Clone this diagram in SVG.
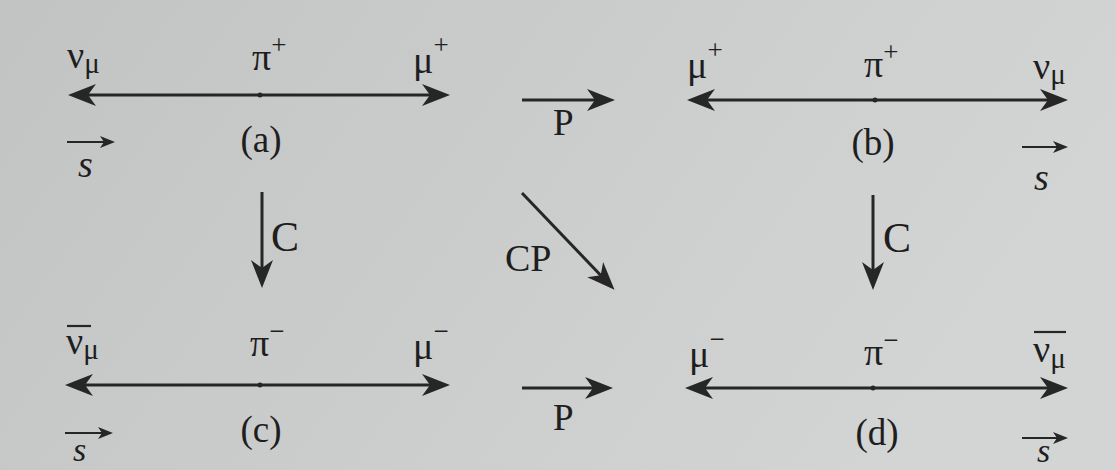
<svg xmlns="http://www.w3.org/2000/svg" width="1116" height="470" viewBox="0 0 1116 470">
<style>
.t{font-family:"Liberation Serif","DejaVu Serif",serif;fill:#1e1e1e}
.g{font-size:38px}
.sub{font-size:29px}
.sup{font-size:27px}
.lab{font-size:37px}
.cp{font-size:38px}
.pp{font-size:37px}
.op{font-size:42px}
.s{font-size:38px;font-style:italic}
.s2{font-size:34px;font-style:italic}
.ax{stroke:#262626;stroke-width:3;fill:none}
.sm{stroke:#262626;stroke-width:2.2;fill:none}
.bar{stroke:#262626;stroke-width:2.2}
</style>
<defs>
<linearGradient id="bg" x1="0" y1="0" x2="1" y2="0.3">
<stop offset="0" stop-color="#c2c3c3"/>
<stop offset="1" stop-color="#d3d4d4"/>
</linearGradient>
<marker id="big" markerUnits="userSpaceOnUse" viewBox="-30 -12 30 24" refX="-8" refY="0" markerWidth="30" markerHeight="24" orient="auto-start-reverse">
<path d="M0,0 L-28,-11 L-20,0 L-28,11 Z" fill="#262626"/>
</marker>
<marker id="mid" markerUnits="userSpaceOnUse" viewBox="-30 -13 30 26" refX="-8" refY="0" markerWidth="30" markerHeight="26" orient="auto">
<path d="M0,0 L-28,-11 L-20,0 L-28,11 Z" fill="#262626"/>
</marker>
<marker id="sml" markerUnits="userSpaceOnUse" viewBox="-16 -8 16 16" refX="-4" refY="0" markerWidth="16" markerHeight="16" orient="auto">
<path d="M0,0 L-15,-6 L-11,0 L-15,6 Z" fill="#262626"/>
</marker>
</defs>
<rect width="1116" height="470" fill="url(#bg)"/>

<g id="panel-a">
<line class="ax" x1="76" y1="95" x2="442" y2="95" marker-start="url(#big)" marker-end="url(#big)"/>
<circle cx="260" cy="95" r="2.5" fill="#262626"/>
<text class="t g" x="67" y="68">ν<tspan class="sub" dy="5">μ</tspan></text>
<text class="t g" x="252" y="70">π<tspan class="sup" dy="-16">+</tspan></text>
<text class="t g" x="413" y="73">μ<tspan class="sup" dy="-19">+</tspan></text>
<text class="t lab" x="261" y="152" text-anchor="middle">(a)</text>
<line class="sm" x1="67" y1="142" x2="111" y2="142" marker-end="url(#sml)"/>
<text class="t s" x="78" y="177">s</text>
</g>

<g id="panel-b">
<line class="ax" x1="695" y1="100" x2="1060" y2="100" marker-start="url(#big)" marker-end="url(#big)"/>
<circle cx="875" cy="100" r="2.5" fill="#262626"/>
<text class="t g" x="687" y="78">μ<tspan class="sup" dy="-19">+</tspan></text>
<text class="t g" x="864" y="77">π<tspan class="sup" dy="-16">+</tspan></text>
<text class="t g" x="1033" y="79">ν<tspan class="sub" dy="5">μ</tspan></text>
<text class="t lab" x="873" y="155" text-anchor="middle">(b)</text>
<line class="sm" x1="1022" y1="147" x2="1064" y2="147" marker-end="url(#sml)"/>
<text class="t s" x="1034" y="190">s</text>
</g>

<g id="panel-c">
<line class="ax" x1="73" y1="385" x2="442" y2="385" marker-start="url(#big)" marker-end="url(#big)"/>
<circle cx="260" cy="385" r="2.5" fill="#262626"/>
<line class="bar" x1="67" y1="326" x2="91" y2="326"/>
<text class="t g" x="66" y="354">ν<tspan class="sub" dy="5">μ</tspan></text>
<text class="t g" x="250" y="356">π<tspan class="sup" dy="-16">−</tspan></text>
<text class="t g" x="413" y="359">μ<tspan class="sup" dy="-19">−</tspan></text>
<text class="t lab" x="261" y="442" text-anchor="middle">(c)</text>
<line class="sm" x1="65" y1="433" x2="109" y2="433" marker-end="url(#sml)"/>
<text class="t s2" x="73" y="461">s</text>
</g>

<g id="panel-d">
<line class="ax" x1="693" y1="388" x2="1060" y2="388" marker-start="url(#big)" marker-end="url(#big)"/>
<circle cx="873" cy="388" r="2.5" fill="#262626"/>
<text class="t g" x="689" y="367">μ<tspan class="sup" dy="-19">−</tspan></text>
<text class="t g" x="864" y="365">π<tspan class="sup" dy="-16">−</tspan></text>
<line class="bar" x1="1034" y1="332" x2="1066" y2="332"/>
<text class="t g" x="1033" y="362">ν<tspan class="sub" dy="6">μ</tspan></text>
<text class="t lab" x="877" y="445" text-anchor="middle">(d)</text>
<line class="sm" x1="1022" y1="438" x2="1064" y2="438" marker-end="url(#sml)"/>
<text class="t s2" x="1037" y="462">s</text>
</g>

<g id="connectors">
<line class="ax" x1="262" y1="192" x2="262" y2="280" marker-end="url(#mid)"/>
<text class="t op" x="271" y="251">C</text>
<line class="ax" x1="873" y1="195" x2="873" y2="282" marker-end="url(#mid)"/>
<text class="t op" x="883" y="252">C</text>
<line class="ax" x1="522" y1="193" x2="609" y2="284" marker-end="url(#mid)"/>
<text class="t cp" x="505" y="271">CP</text>
<line class="ax" x1="522" y1="100" x2="607" y2="100" marker-end="url(#mid)"/>
<text class="t pp" x="553" y="135">P</text>
<line class="ax" x1="522" y1="388" x2="605" y2="388" marker-end="url(#mid)"/>
<text class="t pp" x="553" y="430">P</text>
</g>
</svg>
